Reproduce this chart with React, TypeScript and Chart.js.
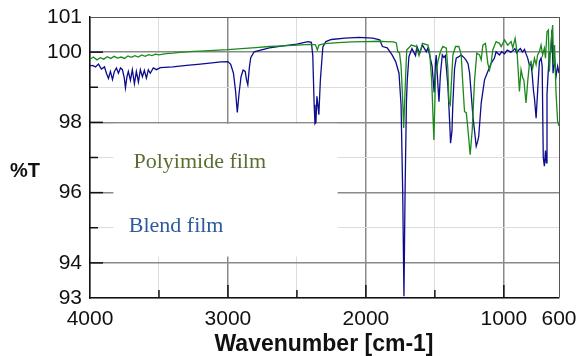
import { useEffect, useRef } from "react";
import { Chart, registerables } from "chart.js";

Chart.register(...registerables);

// ---- axis ticks ----
const X_TICKS = [4000, 3500, 3000, 2500, 2000, 1500, 1000, 600];
const X_LABELED = [4000, 3000, 2000, 1000, 600];
const Y_TICKS = [93, 94, 95, 96, 97, 98, 99, 100, 101];
const Y_LABELED = [93, 94, 96, 98, 100, 101];

// ---- Polyimide film (green) ----
const PI_WN = [4000, 3975, 3950, 3925, 3900, 3875, 3850, 3825, 3800, 3775, 3750, 3725, 3700, 3675, 3650, 3625, 3600, 3575, 3550, 3525, 3500, 3450, 3400, 3350, 3300, 3250, 3200, 3100, 3000, 2900, 2800, 2700, 2600, 2500, 2400, 2365, 2352, 2340, 2300, 2200, 2100, 2000, 1900, 1860, 1800, 1779, 1769, 1756, 1745, 1735, 1726, 1716, 1704, 1670, 1634, 1615, 1590, 1550, 1538, 1523, 1507, 1495, 1478, 1460, 1442, 1417, 1406, 1398, 1388, 1381, 1369, 1350, 1326, 1309, 1297, 1285, 1272, 1261, 1244, 1229, 1212, 1196, 1176, 1164, 1152, 1133, 1116, 1104, 1092, 1080, 1056, 1032, 1019, 995, 972, 947, 935, 918, 904, 894, 887, 875, 863, 855, 839, 827, 815, 803, 791, 778, 766, 755, 742, 730, 719, 706, 698, 687, 677, 670, 663, 653, 646, 639, 632, 622, 610, 600];
const PI_T = [99.80, 99.86, 99.78, 99.84, 99.80, 99.87, 99.82, 99.88, 99.83, 99.86, 99.82, 99.89, 99.85, 99.90, 99.86, 99.92, 99.88, 99.93, 99.90, 99.94, 99.92, 99.96, 99.97, 99.99, 100.01, 100.02, 100.03, 100.05, 100.07, 100.10, 100.13, 100.16, 100.18, 100.20, 100.22, 100.21, 100.06, 100.20, 100.24, 100.27, 100.29, 100.30, 100.31, 100.30, 100.29, 100.26, 100.01, 99.98, 99.6, 98.8, 97.84, 98.9, 100.06, 100.20, 100.16, 99.90, 100.25, 100.20, 100.01, 99.20, 97.50, 99.35, 99.73, 100.01, 100.16, 100.11, 99.54, 98.59, 98.50, 99.07, 99.92, 100.16, 100.16, 99.92, 99.07, 98.31, 98.27, 97.84, 97.08, 97.79, 99.21, 99.97, 99.92, 99.78, 100.20, 100.25, 99.68, 99.49, 99.68, 100.06, 100.30, 100.25, 100.16, 100.35, 100.20, 100.30, 100.12, 100.39, 100.01, 99.35, 98.88, 99.50, 99.27, 99.21, 98.55, 99.16, 99.64, 99.73, 99.54, 99.83, 99.64, 99.92, 100.01, 100.20, 99.92, 100.11, 99.83, 100.58, 100.63, 99.45, 99.92, 100.49, 100.77, 99.64, 100.20, 98.88, 98.03, 97.90];

// ---- Blend film (blue) ----
const BL_WN = [4000, 3982, 3960, 3939, 3917, 3895, 3881, 3866, 3852, 3837, 3823, 3808, 3794, 3779, 3765, 3751, 3743, 3732, 3722, 3707, 3693, 3678, 3664, 3649, 3635, 3620, 3606, 3591, 3577, 3563, 3541, 3519, 3490, 3400, 3300, 3200, 3100, 3050, 3000, 2980, 2960, 2945, 2932, 2920, 2905, 2890, 2875, 2865, 2856, 2845, 2835, 2810, 2700, 2600, 2500, 2420, 2395, 2385, 2375, 2369, 2362, 2355, 2348, 2341, 2330, 2312, 2290, 2250, 2150, 2050, 1950, 1900, 1880, 1845, 1810, 1784, 1760, 1745, 1733, 1724, 1716, 1706, 1700, 1688, 1666, 1640, 1630, 1610, 1590, 1562, 1550, 1533, 1520, 1505, 1495, 1490, 1478, 1470, 1460, 1446, 1435, 1424, 1406, 1393, 1386, 1376, 1369, 1357, 1345, 1326, 1309, 1285, 1275, 1260, 1248, 1224, 1200, 1190, 1182, 1164, 1140, 1116, 1092, 1068, 1056, 1032, 1015, 995, 975, 950, 935, 920, 907, 892, 880, 865, 850, 839, 827, 815, 803, 795, 785, 778, 766, 755, 742, 730, 722, 714, 706, 698, 692, 687, 680, 670, 660, 651, 643, 634, 622, 610, 600];
const BL_T = [99.61, 99.62, 99.58, 99.66, 99.52, 99.58, 99.40, 99.25, 99.45, 99.22, 99.45, 99.55, 99.40, 99.55, 99.50, 99.25, 98.98, 99.30, 99.45, 99.20, 99.50, 99.10, 99.45, 99.15, 99.50, 99.30, 99.48, 99.26, 99.50, 99.40, 99.55, 99.50, 99.56, 99.58, 99.62, 99.66, 99.70, 99.72, 99.73, 99.65, 99.40, 98.90, 98.28, 98.80, 99.30, 99.49, 99.45, 99.20, 99.07, 99.55, 99.84, 100.01, 100.12, 100.18, 100.23, 100.30, 100.28, 99.90, 98.50, 97.96, 98.00, 98.74, 98.50, 98.22, 99.20, 100.15, 100.30, 100.36, 100.40, 100.42, 100.40, 100.35, 100.16, 100.12, 99.92, 99.73, 99.40, 98.50, 96.00, 93.05, 96.00, 98.60, 99.20, 99.87, 100.10, 99.90, 100.16, 99.97, 100.20, 100.01, 100.12, 99.83, 99.60, 98.85, 99.70, 99.92, 99.07, 98.59, 99.35, 99.92, 99.85, 99.90, 99.07, 98.03, 97.41, 97.75, 98.59, 99.54, 99.83, 99.87, 99.92, 99.83, 99.78, 99.68, 99.40, 98.17, 97.32, 97.45, 97.60, 98.55, 99.21, 99.45, 99.68, 99.83, 100.01, 99.92, 100.01, 99.95, 100.06, 100.00, 100.04, 100.10, 99.98, 100.06, 100.10, 100.00, 100.08, 99.95, 99.83, 99.64, 99.64, 99.40, 98.90, 98.69, 98.12, 98.88, 99.73, 99.83, 99.60, 97.00, 96.75, 97.20, 96.85, 98.80, 99.30, 99.97, 100.00, 100.63, 99.40, 99.90, 99.30, 99.60, 99.40];

// ---- annotation texts ----
const LABEL_PI = "Polyimide film";
const LABEL_BL = "Blend film";
const Y_TITLE = "%T";
const X_TITLE = "Wavenumber [cm-1]";

// white label panel (in data units) and label anchors
const BOX_WN = [3830, 2205];
const BOX_T = [97.96, 94.18];
const PI_LABEL_AT = [3685, 96.7];
const BL_LABEL_AT = [3719, 94.87];

const toPoints = (xs: number[], ys: number[]) => xs.map((x, i) => ({ x, y: ys[i] }));

const decorPlugin = {
  id: "decor",
  beforeDatasetsDraw(chart: any) {
    const { ctx, scales } = chart;
    const x = scales.x, y = scales.y;
    const x0 = x.getPixelForValue(BOX_WN[0]);
    const x1 = x.getPixelForValue(BOX_WN[1]);
    const y0 = y.getPixelForValue(BOX_T[0]);
    const y1 = y.getPixelForValue(BOX_T[1]);
    ctx.save();
    ctx.fillStyle = "#ffffff";
    ctx.fillRect(x0, y0, x1 - x0, y1 - y0);
    ctx.textAlign = "left";
    ctx.textBaseline = "alphabetic";
    ctx.font = '22px "Liberation Serif"';
    ctx.fillStyle = "#5b6e32";
    ctx.fillText(LABEL_PI, x.getPixelForValue(PI_LABEL_AT[0]), y.getPixelForValue(PI_LABEL_AT[1]));
    ctx.fillStyle = "#2e5a9c";
    ctx.fillText(LABEL_BL, x.getPixelForValue(BL_LABEL_AT[0]), y.getPixelForValue(BL_LABEL_AT[1]));
    ctx.restore();
  },
  afterDraw(chart: any) {
    const { ctx, scales, chartArea } = chart;
    const x = scales.x, y = scales.y;
    ctx.save();
    ctx.strokeStyle = "#111";
    ctx.lineWidth = 1.5;
    // inward ticks
    Y_TICKS.forEach((v) => {
      if (v === 93 || v === 101) return;
      const len = v % 2 === 0 ? 13 : 8;
      const py = y.getPixelForValue(v);
      ctx.beginPath();
      ctx.moveTo(chartArea.left, py);
      ctx.lineTo(chartArea.left + len, py);
      ctx.stroke();
    });
    X_TICKS.forEach((v) => {
      if (v === 4000 || v === 600) return;
      const len = v % 1000 === 0 ? 13 : 8;
      const px = x.getPixelForValue(v);
      ctx.beginPath();
      ctx.moveTo(px, chartArea.bottom);
      ctx.lineTo(px, chartArea.bottom - len);
      ctx.stroke();
    });
    // titles
    ctx.fillStyle = "#111";
    ctx.textBaseline = "alphabetic";
    ctx.font = 'bold 20px "Liberation Sans"';
    ctx.textAlign = "left";
    ctx.fillText(Y_TITLE, 10, 177);
    ctx.font = 'bold 23px "Liberation Sans"';
    ctx.textAlign = "center";
    ctx.fillText(X_TITLE, 324, 351);
    ctx.restore();
  },
};

export default function App() {
  const ref = useRef<HTMLCanvasElement | null>(null);
  useEffect(() => {
    if (!ref.current) return;
    const chart = new Chart(ref.current, {
      type: "line",
      data: {
        datasets: [
          {
            label: "Polyimide film",
            data: toPoints(PI_WN, PI_T),
            borderColor: "#1a8a1a",
            borderWidth: 1.3,
            pointRadius: 0,
            tension: 0,
            fill: false,
          },
          {
            label: "Blend film",
            data: toPoints(BL_WN, BL_T),
            borderColor: "#0c0c8c",
            borderWidth: 1.3,
            pointRadius: 0,
            tension: 0,
            fill: false,
          },
        ],
      },
      options: {
        animation: false,
        responsive: true,
        maintainAspectRatio: false,
        parsing: false as any,
        layout: { padding: { top: 17, right: 20, left: 0, bottom: 0 } },
        plugins: { legend: { display: false }, tooltip: { enabled: false } },
        scales: {
          x: {
            type: "linear",
            reverse: true,
            min: 600,
            max: 4000,
            afterBuildTicks: (s: any) => {
              s.ticks = X_TICKS.map((v) => ({ value: v }));
            },
            afterFit: (s: any) => {
              s.height = 58;
              s.paddingLeft = 0;
              s.paddingRight = 0;
            },
            ticks: {
              autoSkip: false,
              maxRotation: 0,
              padding: 9,
              color: "#111",
              font: { family: "Liberation Sans", size: 21 },
              callback: (v: any) => (X_LABELED.includes(Number(v)) ? String(v) : ""),
            },
            grid: {
              drawTicks: false,
              color: (c: any) => {
                const v = c.tick?.value;
                if (v === 600) return "#555";
                return v % 1000 === 0 ? "#8a8a8a" : "#dcdcdc";
              },
              lineWidth: (c: any) => (c.tick?.value % 1000 === 0 ? 1.5 : 1),
            },
            border: { color: "#111", width: 1.5 },
          },
          y: {
            type: "linear",
            min: 93,
            max: 101,
            afterBuildTicks: (s: any) => {
              s.ticks = Y_TICKS.map((v) => ({ value: v }));
            },
            afterFit: (s: any) => {
              s.width = 90;
              s.paddingTop = 0;
              s.paddingBottom = 0;
            },
            ticks: {
              autoSkip: false,
              padding: 8,
              color: "#111",
              font: { family: "Liberation Sans", size: 21 },
              callback: (v: any) => (Y_LABELED.includes(Number(v)) ? String(v) : ""),
            },
            grid: {
              drawTicks: false,
              color: (c: any) => {
                const v = c.tick?.value;
                if (v === 101) return "#555";
                return v % 2 === 0 ? "#8a8a8a" : "#dcdcdc";
              },
              lineWidth: (c: any) => (c.tick?.value % 2 === 0 ? 1.5 : 1),
            },
            border: { color: "#111", width: 1.5 },
          },
        },
      },
      plugins: [decorPlugin],
    });
    return () => chart.destroy();
  }, []);
  return (
    <div style={{ position: "fixed", left: 0, top: 0, width: 579, height: 356, background: "#fff" }}>
      <canvas ref={ref} />
    </div>
  );
}
